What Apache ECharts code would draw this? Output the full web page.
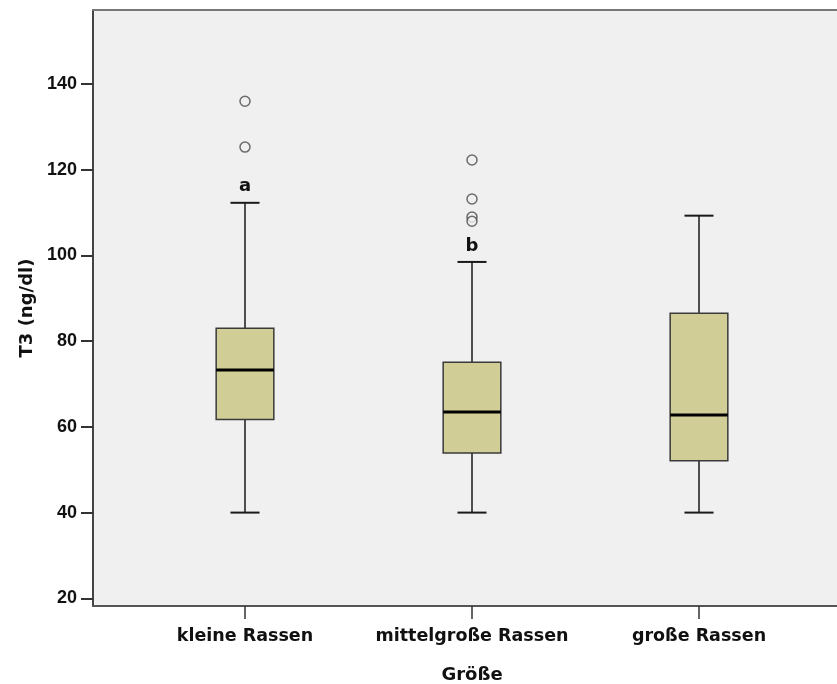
<!DOCTYPE html>
<html>
<head>
<meta charset="utf-8">
<script src="https://cdn.jsdelivr.net/npm/echarts@6/dist/echarts.min.js"></script>
<style>html,body{margin:0;padding:0;background:#fff}#c{width:837px;height:684px}</style>
</head>
<body>
<div id="c"></div>
<script>
var categories = ['kleine Rassen', 'mittelgroße Rassen', 'große Rassen'];
// [min whisker, Q1, median, Q3, max whisker]
var boxStats = [
  [40, 61.7, 73.3, 83.0, 112.3],
  [40, 53.9, 63.5, 75.1, 98.5],
  [40, 52.1, 62.8, 86.5, 109.3]
];
var outliers = [
  [0, 136], [0, 125.3],
  [1, 122.3], [1, 113.2], [1, 109.0], [1, 108.0]
];
var letters = ['a', 'b', ''];
var yTicks = [20, 40, 60, 80, 100, 120, 140];

var boxData = boxStats.map(function (s, i) { return [i].concat(s); });

var chart = echarts.init(document.getElementById('c'), null, {renderer: 'canvas'});
var labelFont = '"DejaVu Sans", Verdana, sans-serif';

var option = {
  backgroundColor: '#ffffff',
  animation: false,
  grid: [
    {left: 93, top: 10, right: -10, bottom: 78, show: true, backgroundColor: '#eff0ef', borderWidth: 0,
     containLabel: false, outerBoundsMode: 'none'},
    {left: 131.5, top: 10, width: 681, bottom: 78, show: false,
     containLabel: false, outerBoundsMode: 'none'}
  ],
  xAxis: [
    {type: 'value', gridIndex: 0, min: 0, max: 1, position: 'bottom',
     axisLine: {show: true, onZero: false, lineStyle: {color: '#555', width: 2}},
     axisTick: {show: false}, axisLabel: {show: false}, splitLine: {show: false}},
    {type: 'category', gridIndex: 1, data: categories, position: 'bottom',
     axisLine: {show: false, onZero: false},
     axisTick: {show: true, alignWithLabel: true, length: 13, lineStyle: {color: '#333', width: 1.5}},
     axisLabel: {margin: 21, interval: 0, hideOverlap: false, fontFamily: labelFont, fontWeight: 'bold', fontSize: 17.5, color: '#111'},
     name: 'Größe', nameLocation: 'middle', nameGap: 60,
     nameTextStyle: {fontFamily: labelFont, fontWeight: 'bold', fontSize: 18, color: '#111'},
     splitLine: {show: false}},
    {type: 'value', gridIndex: 0, min: 0, max: 1, position: 'top',
     axisLine: {show: true, onZero: false, lineStyle: {color: '#777', width: 2}},
     axisTick: {show: false}, axisLabel: {show: false}, splitLine: {show: false}}
  ],
  yAxis: [
    {type: 'value', gridIndex: 0, min: 18.2, max: 157.3, position: 'left',
     axisLine: {show: true, onZero: false, lineStyle: {color: '#444', width: 2}},
     axisTick: {show: true, length: 12, customValues: yTicks, lineStyle: {color: '#333', width: 2}},
     axisLabel: {margin: 16, customValues: yTicks, fontFamily: '"Liberation Sans", Arial, sans-serif', fontWeight: 'bold', fontSize: 18, color: '#111'},
     splitLine: {show: false},
     name: 'T3 (ng/dl)', nameLocation: 'middle', nameGap: 44, nameRotate: 90,
     nameTextStyle: {fontFamily: labelFont, fontWeight: 'bold', fontSize: 18, color: '#111'}},
    {type: 'value', gridIndex: 1, min: 18.2, max: 157.3, show: false,
     splitLine: {show: false}}
  ],
  series: [
    {
      type: 'custom',
      xAxisIndex: 1, yAxisIndex: 1,
      data: boxData,
      renderItem: function (params, api) {
        var i = api.value(0);
        var band = api.size([1, 0])[0];
        var x = api.coord([i, api.value(3)])[0];
        var yMin = api.coord([i, api.value(1)])[1];
        var yQ1 = api.coord([i, api.value(2)])[1];
        var yMed = api.coord([i, api.value(3)])[1];
        var yQ3 = api.coord([i, api.value(4)])[1];
        var yMax = api.coord([i, api.value(5)])[1];
        var bw = band * 0.254;
        var cw = band * 0.128;
        var lineStyle = {stroke: '#1a1a1a', lineWidth: 1.5};
        var children = [
          {type: 'line', shape: {x1: x, y1: yMin, x2: x, y2: yQ1}, style: lineStyle},
          {type: 'line', shape: {x1: x, y1: yQ3, x2: x, y2: yMax}, style: lineStyle},
          {type: 'line', shape: {x1: x - cw / 2, y1: yMin, x2: x + cw / 2, y2: yMin}, style: {stroke: '#1a1a1a', lineWidth: 2}},
          {type: 'line', shape: {x1: x - cw / 2, y1: yMax, x2: x + cw / 2, y2: yMax}, style: {stroke: '#1a1a1a', lineWidth: 2}},
          {type: 'rect', shape: {x: x - bw / 2, y: yQ3, width: bw, height: yQ1 - yQ3},
           style: {fill: '#d0cd96', stroke: '#3a3a3a', lineWidth: 1.5}},
          {type: 'line', shape: {x1: x - bw / 2, y1: yMed, x2: x + bw / 2, y2: yMed}, style: {stroke: '#000', lineWidth: 3}}
        ];
        var t = letters[params.dataIndex];
        if (t) {
          children.push({type: 'text', style: {text: t, x: x, y: yMax - 7, align: 'center', verticalAlign: 'bottom',
            fontFamily: labelFont, fontWeight: 'bold', fontSize: 18, fill: '#111'}});
        }
        return {type: 'group', children: children};
      },
      z: 3
    },
    {
      type: 'scatter',
      xAxisIndex: 1, yAxisIndex: 1,
      data: outliers,
      symbol: 'circle', symbolSize: 10,
      itemStyle: {color: '#eff0ef', borderColor: '#4a4a4a', borderWidth: 1.5},
      z: 4
    }
  ]
};
chart.setOption(option);
</script>
</body>
</html>
